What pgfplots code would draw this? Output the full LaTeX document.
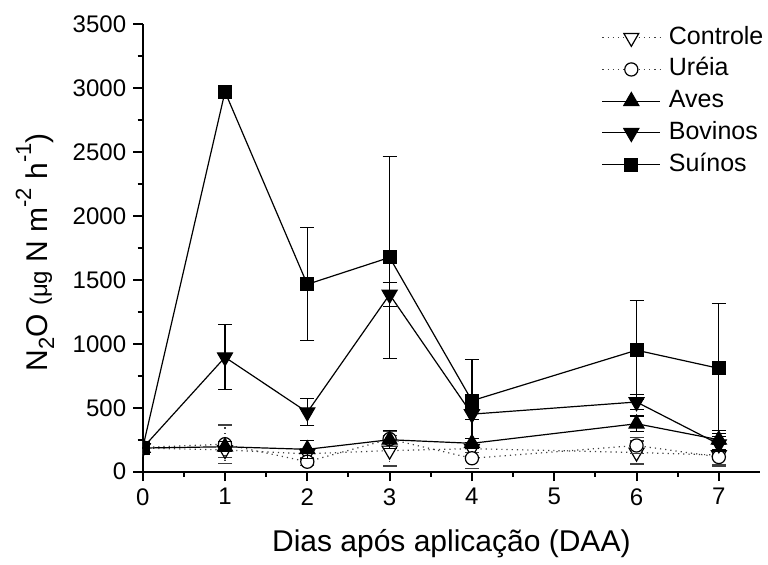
\documentclass[border=0pt]{standalone}
\usepackage{fontspec}
\setmainfont{Liberation Sans}
\usepackage{pgfplots}
\pgfplotsset{compat=1.18}
\usepackage{pgfplotstable}

% dias, media, desvio
\pgfplotstableread{
x y e
0 185 0
1 170 60
2 140 40
3 165 120
4 180 30
6 150 90
7 130 85
}\controle
\pgfplotstableread{
x y e
0 190 0
1 215 150
2 78 30
3 255 60
4 105 80
6 205 60
7 115 60
}\ureia
\pgfplotstableread{
x y e
0 185 0
1 195 40
2 175 70
3 250 70
4 222 40
6 375 60
7 250 75
}\aves
\pgfplotstableread{
x y e
0 185 0
1 895 255
2 465 105
3 1385 95
4 450 40
6 545 60
7 215 60
}\bovinos
\pgfplotstableread{
x y e
0 185 0
1 2970 0
2 1465 442
3 1675 790
4 555 325
6 950 388
7 808 508
}\suinos

\pgfplotsset{
  ebar/.style={error bars/.cd, y dir=both, y explicit,
    error bar style={line width=0.6pt, #1},
    error mark options={rotate=90, mark size=3.5pt, line width=0.6pt, solid}},
}

\begin{document}
\begin{tikzpicture}
\begin{axis}[
  scale only axis, width=308.65pt, height=223.85pt,
  xmin=0, xmax=7.5, ymin=0, ymax=3500,
  axis lines*=left,
  axis line style={line width=1pt},
  tick style={line width=1pt, black},
  tick align=outside, major tick length=4.75pt, minor tick length=2.5pt,
  xtick={0,...,7}, minor x tick num=1,
  xticklabels={0,1,2,3,4,5,6,7},
  ytick={0,500,...,3500}, minor y tick num=1,
  yticklabels={0,500,1000,1500,2000,2500,3000,3500},
  every tick label/.append style={font=\fontsize{12}{14}\selectfont},
  clip marker paths=true,
  xlabel={Dias após aplicação (DAA)},
  xlabel style={at={(rel axis cs:0.5,-0.1787)}, anchor=base, font=\fontsize{15}{18}\selectfont},
  ylabel={N\raisebox{-0.45ex}{\fontsize{11}{11}\selectfont 2}O {\fontsize{12}{12}\selectfont (μg} N m\raisebox{1ex}{\fontsize{11}{11}\selectfont -2} h\raisebox{1ex}{\fontsize{11}{11}\selectfont -1})},
  ylabel style={at={(rel axis cs:-0.1745,0.49)}, anchor=center, font=\fontsize{15}{18}\selectfont},
  legend style={draw=none, fill=none, at={(rel axis cs:0.7436,0.995)}, anchor=north west,
    inner sep=0pt, outer sep=0pt, font=\fontsize{12.5}{15}\selectfont, row sep=4.35pt,
    nodes={inner sep=0pt, text height=9pt, text depth=2.5pt},
    /tikz/every odd column/.append style={column sep=4pt}},
  legend cell align=left,
  legend image code/.code={\draw[mark repeat=2, mark phase=2] plot coordinates {(0pt,0pt) (14.5pt,0pt) (29pt,0pt)};},
]
\addplot[black!75, dotted, line width=0.6pt, mark=triangle*, mark size=4.3pt,
  mark options={solid, black, fill=white, rotate=180, line width=0.6pt}, ebar={dotted}]
  table[x=x, y=y, y error=e] {\controle};
\addlegendentry{Controle}
\addplot[black!75, dotted, line width=0.6pt, mark=*, mark size=3.3pt,
  mark options={solid, black, fill=white, line width=0.6pt}, ebar={dotted}]
  table[x=x, y=y, y error=e] {\ureia};
\addlegendentry{Uréia}
\addplot[black, line width=0.6pt, mark=triangle*, mark size=4.3pt,
  mark options={solid, fill=black}, ebar={solid}]
  table[x=x, y=y, y error=e] {\aves};
\addlegendentry{Aves}
\addplot[black, line width=0.6pt, mark=triangle*, mark size=4.3pt,
  mark options={solid, fill=black, rotate=180}, ebar={solid}]
  table[x=x, y=y, y error=e] {\bovinos};
\addlegendentry{Bovinos}
\addplot[black, line width=0.6pt, mark=square*, mark size=3.2pt,
  mark options={solid, fill=black}, ebar={solid}]
  table[x=x, y=y, y error=e] {\suinos};
\addlegendentry{Suínos}
\end{axis}
\path ([shift={(-71.35pt,-43.65pt)}]current axis.south west)
  rectangle ([shift={(312.65pt,235.85pt)}]current axis.south west);
\end{tikzpicture}
\end{document}
